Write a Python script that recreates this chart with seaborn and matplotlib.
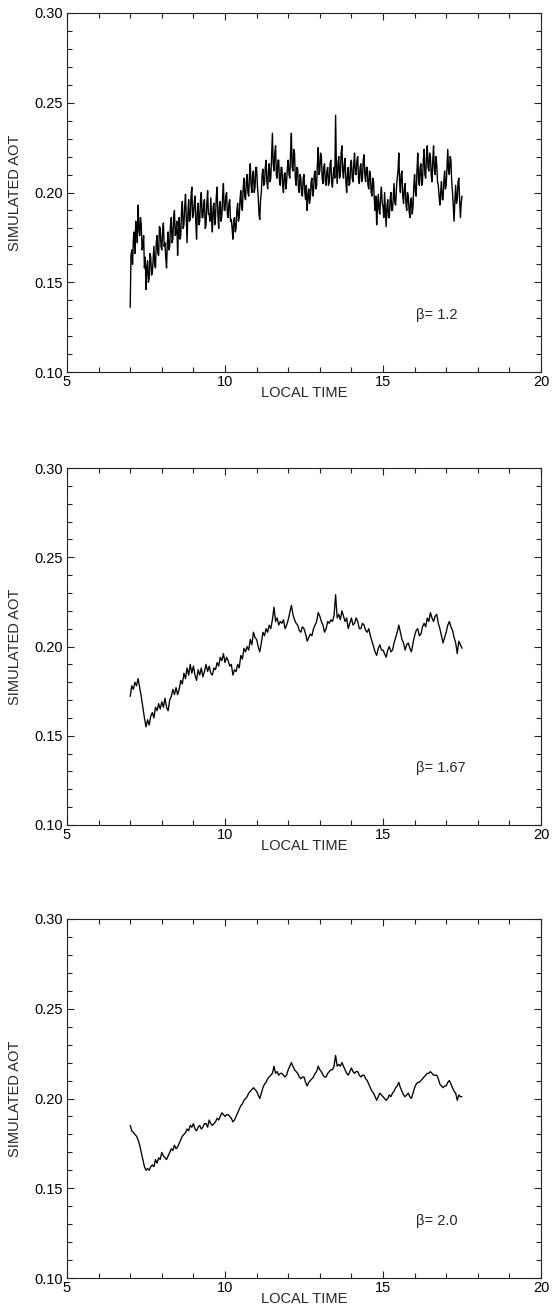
import numpy as np
import pandas as pd
import matplotlib
matplotlib.use("Agg")
import matplotlib.pyplot as plt
from matplotlib.ticker import MultipleLocator, FormatStrFormatter
import seaborn as sns

# ---------------- data ----------------
time_fine = np.linspace(7.0, 17.5, 421)    # 0.025 h spacing (beta = 1.2 panel)
time_coarse = np.linspace(7.0, 17.5, 211)  # 0.05 h spacing (other panels)

aot_beta_1_2 = [
    0.136, 0.165, 0.168, 0.160, 0.174, 0.178, 0.166, 0.184, 0.181, 0.172,
    0.193, 0.180, 0.176, 0.186, 0.182, 0.168, 0.170, 0.176, 0.158, 0.164,
    0.146, 0.158, 0.162, 0.150, 0.152, 0.166, 0.164, 0.154, 0.155, 0.163,
    0.170, 0.160, 0.158, 0.172, 0.176, 0.166, 0.165, 0.181, 0.180, 0.170,
    0.168, 0.178, 0.183, 0.170, 0.172, 0.164, 0.158, 0.172, 0.178, 0.168,
    0.170, 0.182, 0.186, 0.172, 0.174, 0.186, 0.190, 0.176, 0.178, 0.184,
    0.165, 0.178, 0.186, 0.174, 0.176, 0.190, 0.195, 0.180, 0.182, 0.192,
    0.199, 0.186, 0.172, 0.188, 0.196, 0.184, 0.185, 0.198, 0.203, 0.186,
    0.188, 0.194, 0.198, 0.184, 0.174, 0.190, 0.194, 0.182, 0.184, 0.196,
    0.200, 0.186, 0.186, 0.194, 0.196, 0.180, 0.182, 0.194, 0.201, 0.188,
    0.188, 0.184, 0.197, 0.186, 0.178, 0.192, 0.194, 0.182, 0.186, 0.198,
    0.203, 0.188, 0.180, 0.192, 0.195, 0.184, 0.187, 0.198, 0.205, 0.190,
    0.190, 0.198, 0.200, 0.188, 0.186, 0.194, 0.196, 0.184, 0.185, 0.180,
    0.174, 0.184, 0.186, 0.178, 0.180, 0.190, 0.194, 0.184, 0.186, 0.196,
    0.201, 0.192, 0.190, 0.202, 0.208, 0.198, 0.196, 0.206, 0.210, 0.200,
    0.198, 0.210, 0.216, 0.204, 0.200, 0.210, 0.212, 0.200, 0.203, 0.214,
    0.214, 0.204, 0.198, 0.188, 0.185, 0.196, 0.200, 0.210, 0.213, 0.204,
    0.205, 0.214, 0.218, 0.206, 0.202, 0.212, 0.216, 0.206, 0.208, 0.220,
    0.233, 0.216, 0.212, 0.222, 0.226, 0.210, 0.208, 0.218, 0.218, 0.206,
    0.204, 0.214, 0.214, 0.204, 0.200, 0.210, 0.211, 0.202, 0.206, 0.214,
    0.218, 0.210, 0.208, 0.222, 0.233, 0.214, 0.212, 0.224, 0.222, 0.208,
    0.204, 0.214, 0.213, 0.202, 0.200, 0.210, 0.208, 0.199, 0.198, 0.208,
    0.210, 0.200, 0.196, 0.204, 0.190, 0.198, 0.202, 0.194, 0.197, 0.206,
    0.208, 0.198, 0.200, 0.210, 0.212, 0.202, 0.204, 0.216, 0.225, 0.210,
    0.212, 0.222, 0.220, 0.208, 0.205, 0.214, 0.216, 0.206, 0.204, 0.212,
    0.214, 0.204, 0.206, 0.216, 0.218, 0.206, 0.203, 0.210, 0.214, 0.208,
    0.243, 0.214, 0.205, 0.216, 0.220, 0.208, 0.210, 0.222, 0.226, 0.212,
    0.208, 0.216, 0.219, 0.206, 0.200, 0.210, 0.214, 0.204, 0.205, 0.216,
    0.218, 0.208, 0.206, 0.216, 0.222, 0.210, 0.210, 0.218, 0.220, 0.208,
    0.205, 0.214, 0.216, 0.206, 0.208, 0.218, 0.221, 0.210, 0.206, 0.214,
    0.214, 0.204, 0.202, 0.212, 0.210, 0.200, 0.198, 0.208, 0.206, 0.196,
    0.190, 0.198, 0.182, 0.192, 0.199, 0.190, 0.188, 0.198, 0.203, 0.194,
    0.192, 0.186, 0.200, 0.190, 0.181, 0.192, 0.196, 0.186, 0.186, 0.196,
    0.200, 0.190, 0.190, 0.198, 0.205, 0.194, 0.193, 0.202, 0.208, 0.212,
    0.222, 0.206, 0.200, 0.210, 0.212, 0.198, 0.194, 0.202, 0.205, 0.194,
    0.190, 0.200, 0.198, 0.190, 0.186, 0.196, 0.197, 0.188, 0.192, 0.204,
    0.210, 0.200, 0.198, 0.212, 0.222, 0.208, 0.204, 0.214, 0.216, 0.204,
    0.206, 0.218, 0.224, 0.210, 0.208, 0.220, 0.226, 0.214, 0.212, 0.222,
    0.220, 0.210, 0.206, 0.218, 0.226, 0.212, 0.210, 0.220, 0.216, 0.206,
    0.204, 0.198, 0.193, 0.200, 0.206, 0.196, 0.196, 0.206, 0.212, 0.202,
    0.204, 0.214, 0.224, 0.212, 0.210, 0.220, 0.218, 0.206, 0.200, 0.192,
    0.184, 0.196, 0.204, 0.194, 0.196, 0.206, 0.208, 0.196, 0.186, 0.194,
    0.198,
]

aot_beta_1_67 = [
    0.172, 0.178, 0.176, 0.180, 0.178, 0.182, 0.177, 0.172, 0.166, 0.160,
    0.155, 0.159, 0.156, 0.161, 0.163, 0.160, 0.166, 0.164, 0.168, 0.165,
    0.169, 0.166, 0.171, 0.166, 0.164, 0.170, 0.172, 0.176, 0.173, 0.177,
    0.173, 0.176, 0.181, 0.179, 0.185, 0.182, 0.188, 0.184, 0.190, 0.185,
    0.189, 0.184, 0.181, 0.187, 0.184, 0.188, 0.183, 0.186, 0.190, 0.186,
    0.189, 0.185, 0.184, 0.188, 0.187, 0.191, 0.189, 0.194, 0.192, 0.196,
    0.191, 0.194, 0.192, 0.189, 0.190, 0.184, 0.187, 0.186, 0.190, 0.188,
    0.195, 0.193, 0.199, 0.197, 0.200, 0.198, 0.204, 0.201, 0.208, 0.205,
    0.204, 0.200, 0.197, 0.202, 0.208, 0.206, 0.210, 0.208, 0.212, 0.210,
    0.215, 0.222, 0.214, 0.216, 0.212, 0.214, 0.213, 0.215, 0.210, 0.212,
    0.215, 0.219, 0.223, 0.218, 0.215, 0.213, 0.212, 0.209, 0.208, 0.211,
    0.210, 0.207, 0.203, 0.205, 0.207, 0.206, 0.210, 0.212, 0.214, 0.219,
    0.217, 0.214, 0.212, 0.208, 0.210, 0.214, 0.213, 0.215, 0.214, 0.217,
    0.229, 0.216, 0.218, 0.215, 0.220, 0.217, 0.214, 0.216, 0.210, 0.213,
    0.216, 0.212, 0.213, 0.216, 0.214, 0.210, 0.210, 0.213, 0.212, 0.209,
    0.208, 0.210, 0.206, 0.203, 0.200, 0.197, 0.195, 0.199, 0.201, 0.198,
    0.198, 0.196, 0.194, 0.198, 0.200, 0.197, 0.198, 0.202, 0.205, 0.208,
    0.212, 0.208, 0.204, 0.202, 0.198, 0.201, 0.202, 0.199, 0.197, 0.202,
    0.206, 0.209, 0.210, 0.206, 0.207, 0.211, 0.213, 0.211, 0.216, 0.214,
    0.219, 0.216, 0.214, 0.217, 0.218, 0.213, 0.210, 0.206, 0.202, 0.205,
    0.208, 0.212, 0.214, 0.211, 0.209, 0.205, 0.202, 0.196, 0.203, 0.201,
    0.199,
]

aot_beta_2_0 = [
    0.185, 0.182, 0.181, 0.180, 0.179, 0.177, 0.174, 0.170, 0.166, 0.162,
    0.160, 0.161, 0.160, 0.162, 0.163, 0.162, 0.166, 0.164, 0.167, 0.166,
    0.170, 0.168, 0.167, 0.166, 0.168, 0.170, 0.172, 0.171, 0.174, 0.172,
    0.173, 0.175, 0.177, 0.179, 0.180, 0.181, 0.183, 0.182, 0.185, 0.184,
    0.186, 0.183, 0.182, 0.184, 0.185, 0.183, 0.184, 0.186, 0.186, 0.184,
    0.188, 0.186, 0.185, 0.186, 0.187, 0.189, 0.188, 0.190, 0.192, 0.191,
    0.190, 0.191, 0.191, 0.190, 0.189, 0.187, 0.188, 0.190, 0.192, 0.194,
    0.196, 0.197, 0.199, 0.200, 0.201, 0.203, 0.204, 0.205, 0.206, 0.205,
    0.204, 0.202, 0.200, 0.203, 0.206, 0.208, 0.209, 0.211, 0.212, 0.213,
    0.214, 0.218, 0.214, 0.215, 0.213, 0.214, 0.214, 0.213, 0.212, 0.213,
    0.216, 0.218, 0.220, 0.218, 0.216, 0.215, 0.214, 0.212, 0.211, 0.212,
    0.212, 0.209, 0.207, 0.209, 0.210, 0.211, 0.212, 0.214, 0.215, 0.218,
    0.216, 0.215, 0.213, 0.212, 0.212, 0.214, 0.215, 0.216, 0.216, 0.218,
    0.224, 0.218, 0.219, 0.218, 0.220, 0.218, 0.216, 0.214, 0.213, 0.215,
    0.217, 0.215, 0.214, 0.215, 0.215, 0.213, 0.212, 0.213, 0.213, 0.211,
    0.210, 0.208, 0.206, 0.204, 0.203, 0.201, 0.199, 0.201, 0.203, 0.202,
    0.201, 0.200, 0.199, 0.200, 0.202, 0.201, 0.203, 0.204, 0.206, 0.207,
    0.209, 0.206, 0.204, 0.202, 0.201, 0.202, 0.203, 0.201, 0.200, 0.203,
    0.206, 0.208, 0.209, 0.209, 0.210, 0.211, 0.212, 0.213, 0.214, 0.214,
    0.215, 0.214, 0.213, 0.213, 0.213, 0.211, 0.208, 0.207, 0.206, 0.207,
    0.207, 0.209, 0.210, 0.208, 0.206, 0.204, 0.203, 0.199, 0.202, 0.201,
    0.201,
]

panel_times = [time_fine, time_coarse, time_coarse]
panel_series = [aot_beta_1_2, aot_beta_1_67, aot_beta_2_0]
beta_labels = ["\u03b2= 1.2", "\u03b2= 1.67", "\u03b2= 2.0"]
x_ticks = [5, 10, 15, 20]
y_ticks = [0.10, 0.15, 0.20, 0.25, 0.30]
x_label = "LOCAL TIME"
y_label = "SIMULATED AOT"

# ---------------- style ----------------
sns.set_style("white")
plt.rcParams["font.family"] = ["Liberation Sans", "DejaVu Sans"]
plt.rcParams["font.size"] = 10.5

fig = plt.figure(figsize=(5.52, 13.14), dpi=100)
fig.patch.set_facecolor("white")

W, H = 552.0, 1314.0
rects = [
    (67 / W, 1 - 372 / H, 474 / W, 359 / H),
    (67 / W, 1 - 825 / H, 474 / W, 357 / H),
    (67 / W, 1 - 1278 / H, 474 / W, 359 / H),
]
line_widths = [1.0, 0.95, 0.95]

for rect, tt, series, blabel, lw in zip(rects, panel_times, panel_series,
                                        beta_labels, line_widths):
    ax = fig.add_axes(rect)
    df = pd.DataFrame({"t": tt, "aot": series})
    sns.lineplot(data=df, x="t", y="aot", ax=ax, color="black",
                 linewidth=lw, estimator=None)
    ax.set_xlim(5, 20)
    ax.set_ylim(0.10, 0.30)
    ax.set_xticks(x_ticks)
    ax.set_yticks(y_ticks)
    ax.yaxis.set_major_formatter(FormatStrFormatter("%.2f"))
    ax.xaxis.set_minor_locator(MultipleLocator(1))
    ax.yaxis.set_minor_locator(MultipleLocator(0.01))
    ax.tick_params(which="both", direction="in", top=True, right=True,
                   bottom=True, left=True, colors="#222222", width=0.8,
                   labelcolor="black")
    ax.tick_params(which="major", length=4.8, labelsize=10.5)
    ax.tick_params(which="minor", length=3.5)
    ax.tick_params(axis="x", which="major", pad=2)
    ax.tick_params(axis="y", which="major", pad=3)
    for sp in ax.spines.values():
        sp.set_visible(True)
        sp.set_color("#222222")
        sp.set_linewidth(0.8)
    ax.set_xlabel(x_label, fontsize=10.5, va="center")
    ax.set_ylabel(y_label, fontsize=10.5, va="center")
    ax.xaxis.set_label_coords(0.5, -0.058)
    ax.yaxis.set_label_coords(-0.110, 0.5)
    ax.text(16.05, 0.132, blabel, fontsize=10.5, ha="left", va="center",
            family=["Liberation Sans", "DejaVu Sans"])

fig.savefig("out.png", dpi=100, facecolor="white")
